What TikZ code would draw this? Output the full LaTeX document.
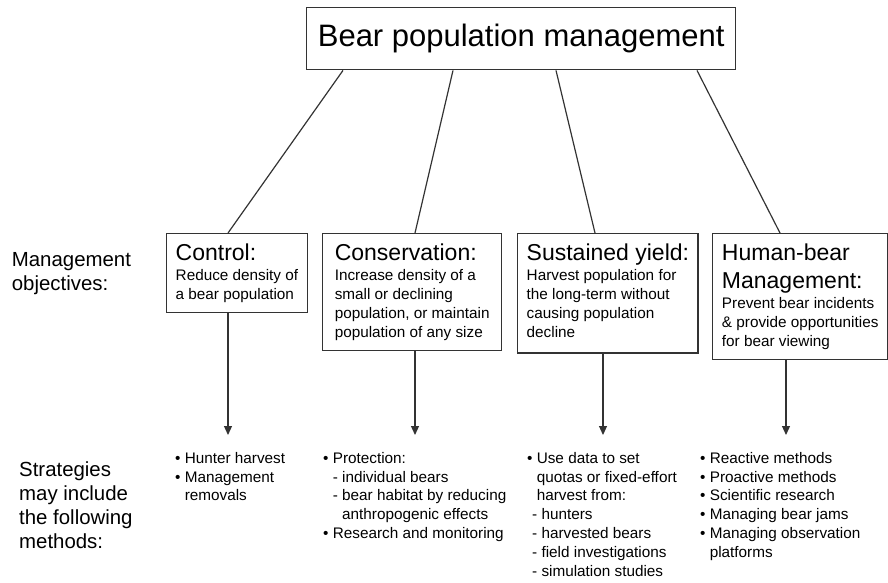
\documentclass[tikz,border=0pt]{standalone}
\usepackage{fontspec}
\setmainfont{Liberation Sans}
\usetikzlibrary{arrows.meta}
\definecolor{linegray}{HTML}{333333}
\newcommand{\headfont}{\fontsize{23}{27}\selectfont}
\newcommand{\blt}{\textbullet\ }
\newcommand{\nob}{\hphantom{\textbullet\ }}

\begin{document}
\begin{tikzpicture}[x=1pt,y=-1pt,-]
    \tikzstyle{heading}=[draw=linegray,line width=1.4pt,minimum height=62pt,minimum width=429pt,anchor=north west,font=\fontsize{31}{36}\selectfont]
    \tikzstyle{objective}=[draw=linegray,line width=1.4pt,anchor=north west,align=left,inner xsep=9pt,inner ysep=10pt,font=\fontsize{15.3}{19}\selectfont]
    \tikzstyle{strategy}=[anchor=north west,align=left,inner xsep=0pt,inner ysep=17pt,font=\fontsize{15.3}{18.8}\selectfont]
    \tikzstyle{side}=[anchor=north west,align=left,inner sep=0pt,font=\fontsize{20.4}{24}\selectfont]
    \tikzstyle{link}=[draw=linegray,line width=1.2pt]
    \useasboundingbox (0,0) rectangle (888,582);

    \node[heading] (T) at (306,7) {Bear population management};

    \node[side] (L-objectives) at (11.7,252) {Management\\objectives:};
    \node[side] (L-strategies) at (19,461.4) {Strategies\\may include\\the following\\methods:};

    \node[objective,minimum width=140.5pt] (O-control) at (166,233)
        {{\headfont Control:}\\[1pt] Reduce density of\\ a bear population};
    \node[objective,minimum width=179pt] (O-conservation) at (322,233)
        {{\headfont Conservation:}\\[1pt] Increase density of a\\ small or declining\\ population, or maintain\\ population of any size};
    \node[objective,minimum width=179.5pt] (O-yield) at (517,233)
        {{\headfont Sustained yield:}\\[1pt] Harvest population for\\ the long-term without\\ causing population\\ decline\strut};
    \node[objective,minimum width=175pt] (O-human) at (712,233)
        {{\headfont Human-bear}\\[9pt] {\headfont Management:}\\[1pt] Prevent bear incidents\\ \& provide opportunities\\ for bear viewing};

    \node[strategy] (S-control) at (175,435)
        {\blt Hunter harvest\\ \blt Management\\ \nob removals};
    \node[strategy] (S-conservation) at (323,435)
        {\blt Protection:\\ \nob - individual bears\\ \nob - bear habitat by reducing\\ \nob\hphantom{- }anthropogenic effects\\ \blt Research and monitoring};
    \node[strategy] (S-yield) at (527,435)
        {\blt Use data to set\\ \nob quotas or fixed-effort\\ \nob harvest from:\\ \hspace*{5pt}- hunters\\ \hspace*{5pt}- harvested bears\\ \hspace*{5pt}- field investigations\\ \hspace*{5pt}- simulation studies};
    \node[strategy] (S-human) at (700,435)
        {\blt Reactive methods\\ \blt Proactive methods\\ \blt Scientific research\\ \blt Managing bear jams\\ \blt Managing observation\\ \nob platforms};

    % title to objectives, objectives to strategies
    \foreach \name/\tx/\ox/\sx in {control/37/62/62, conservation/147/93/93, yield/250/78/86, human/391/68/74}{
        \coordinate (T-\name) at ([xshift=\tx pt]T.south west);
        \coordinate (A-\name) at ([xshift=\ox pt]O-\name.north west);
        \coordinate (B-\name) at ([xshift=\sx pt]O-\name.south west);
        \draw[link] (T-\name) -- (A-\name);
        \draw[link,-{Triangle[length=9pt,width=8pt]}] (B-\name) -- (B-\name |- S-\name.north);
    }
\end{tikzpicture}
\end{document}
